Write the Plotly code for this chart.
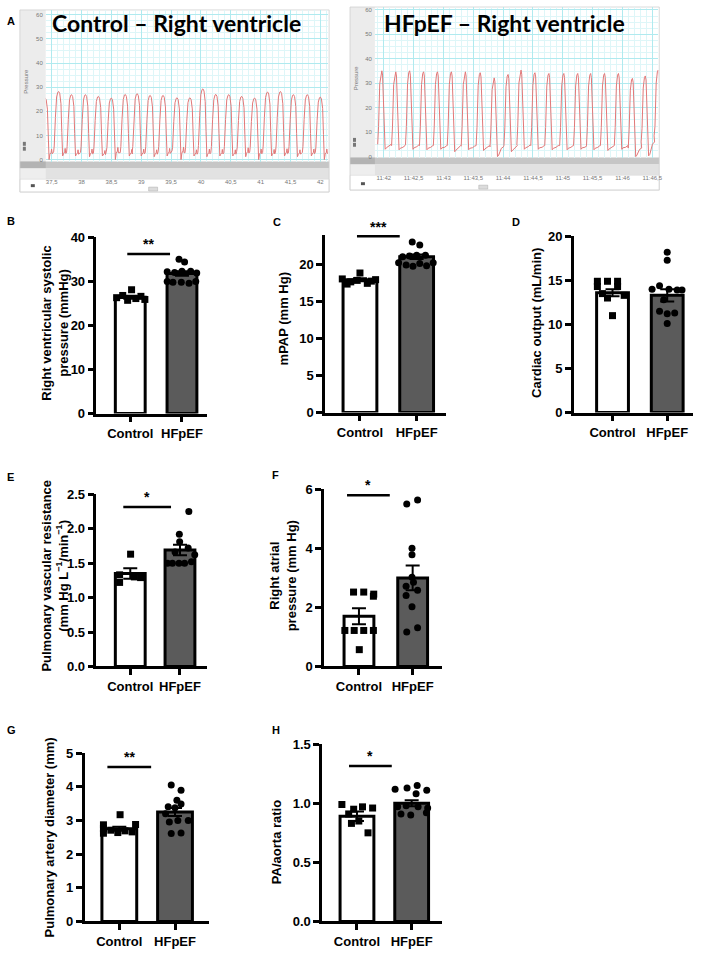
import plotly.graph_objects as go

W, H = 709, 956
FONT = "Liberation Sans"

# ---------------- Panel A data ----------------
ctrl_peak_t = [37.39, 37.617, 37.833, 38.067, 38.283, 38.5, 38.733, 38.933, 39.15, 39.367, 39.6,
               39.817, 40.033, 40.25, 40.467, 40.683, 40.9, 41.117, 41.333, 41.55, 41.783, 42.0]
ctrl_peak_p = [25.5, 28.2, 26.9, 26.9, 26.2, 25.5, 27.0, 27.3, 26.6, 26.6, 25.6,
               25.6, 29.3, 27.0, 26.9, 26.2, 25.5, 28.0, 28.2, 26.9, 26.9, 25.9]
ctrl_min_p = [0.0, 1.5, 1.5, 1.2, 1.5, 0.0, 1.5, 1.5, 1.2, 1.5, 0.0,
              1.5, 1.2, 1.5, 1.5, 1.2, 0.0, 1.5, 1.5, 1.2, 1.5, 0.0]
ctrl_edp = [3.0, 3.2, 2.8, 3.0, 2.6, 3.5, 2.9, 3.0, 2.8, 3.2, 3.6,
            2.8, 3.0, 2.9, 2.8, 3.4, 3.0, 2.9, 3.1, 2.8, 3.0, 3.0]
ctrl_tick_vals = [37.5, 38, 38.5, 39, 39.5, 40, 40.5, 41, 41.5, 42]
ctrl_tick_text = ["37,5", "38", "38,5", "39", "39,5", "40", "40,5", "41", "41,5", "42"]

hf_peak_t = [41.967, 42.2, 42.433, 42.667, 42.9, 43.133, 43.367, 43.617, 43.85, 44.083, 44.3,
             44.533, 44.767, 45.017, 45.25, 45.467, 45.7, 45.933, 46.167, 46.383, 46.6]
hf_peak_p = [35.1, 34.7, 35.1, 34.7, 34.7, 34.7, 34.7, 34.3, 32.2, 33.6, 35.4,
             34.3, 34.0, 34.0, 34.0, 34.0, 34.0, 34.0, 32.0, 33.0, 35.4]
hf_min_p = [3.0, 2.8, 3.0, 2.8, 3.0, 2.0, 2.8, 2.5, 0.0, 2.0, 3.0,
            3.0, 2.8, 2.8, 3.0, 2.8, 2.5, 3.0, 0.0, 0.3, 3.0]
hf_edp = [5.0, 4.5, 4.8, 4.5, 4.5, 4.5, 4.3, 4.5, 4.0, 4.5, 4.8,
          4.5, 4.5, 4.5, 4.5, 4.5, 4.5, 4.5, 3.5, 6.0, 8.5]
hf_tick_vals = [42, 42.5, 43, 43.5, 44, 44.5, 45, 45.5, 46, 46.5]
hf_tick_text = ["11:42", "11:42,5", "11:43", "11:43,5", "11:44", "11:44,5",
                "11:45", "11:45,5", "11:46", "11:46,5"]

# ---------------- Panels B-H data ----------------
groups = ["Control", "HFpEF"]

rvsp_ctrl = [28.1, 26.8, 26.6, 26.3, 26.1, 25.9, 25.7]
rvsp_ctrl_j = [0.08, -0.46, 0.65, -0.83, 0.34, 0.89, -0.16]
rvsp_hf = [35.0, 34.4, 32.2, 32.0, 32.3, 32.3, 31.9, 30.0, 29.8, 29.8, 29.6, 30.0]
rvsp_hf_j = [-0.18, 0.16, -0.9, -0.45, 0.0, 0.53, 0.9, -0.9, -0.55, -0.04, 0.43, 0.84]
rvsp_mean = [26.4, 31.8]
rvsp_sem = [0.35, 0.5]

mpap_ctrl = [18.9, 18.1, 17.7, 17.5, 18.0, 17.4, 17.9, 17.8]
mpap_ctrl_j = [0.0, -0.96, -0.5, 0.4, 0.85, -0.7, -0.15, 0.62]
mpap_hf = [23.1, 22.7, 21.1, 21.2, 21.3, 21.3, 20.3, 20.3, 20.0, 19.8, 20.2, 19.9]
mpap_hf_j = [-0.24, 0.17, -0.76, -0.39, 0.0, 0.48, -0.98, 0.9, -0.57, -0.2, 0.17, 0.54]
mpap_mean = [18.0, 21.1]
mpap_sem = [0.2, 0.3]

co_ctrl = [14.9, 14.9, 14.9, 14.3, 14.3, 13.5, 13.3, 13.0, 11.0]
co_ctrl_j = [-0.87, -0.29, 0.29, -0.87, 0.29, -0.58, 0.67, -0.29, 0.0]
co_hf = [18.2, 17.3, 14.4, 14.0, 14.0, 13.9, 13.9, 12.8, 11.5, 11.2, 11.3, 10.1]
co_hf_j = [0.0, 0.0, -0.44, -0.87, 0.1, 0.57, 0.85, -0.2, -0.44, 0.0, 0.43, 0.0]
co_mean = [13.6, 13.3]
co_sem = [0.4, 0.7]

pvr_ctrl = [1.63, 1.33, 1.30, 1.22, 1.29]
pvr_ctrl_j = [0.02, -0.65, 0.25, -0.65, 0.63]
pvr_hf = [2.25, 1.92, 1.81, 1.72, 1.66, 1.50, 1.50, 1.50, 1.50, 1.52, 1.62]
pvr_hf_j = [0.54, -0.04, -0.02, 0.5, -0.3, -0.76, -0.46, -0.06, 0.28, 0.7, 0.9]
pvr_mean = [1.35, 1.69]
pvr_sem = [0.075, 0.075]

rap_ctrl = [2.52, 2.52, 2.45, 2.38, 1.22, 1.22, 1.22, 1.22, 0.57]
rap_ctrl_j = [-0.33, 0.29, 0.9, 0.88, -0.86, -0.29, 0.29, 0.88, 0.02]
rap_hf = [5.50, 5.64, 4.00, 3.78, 3.02, 2.85, 2.72, 2.58, 2.02, 1.17, 1.31, 2.40]
rap_hf_j = [-0.36, 0.3, -0.04, -0.04, -0.04, 0.05, -0.4, 0.3, -0.04, -0.36, 0.3, -0.4]
rap_mean = [1.70, 3.00]
rap_sem = [0.27, 0.42]

pad_ctrl = [3.17, 2.87, 2.88, 2.76, 2.71, 2.69, 2.66, 2.64, 2.62]
pad_ctrl_j = [0.04, -0.84, 0.86, -0.84, -0.45, 0.3, 0.68, -0.08, -0.84]
pad_hf = [4.05, 3.90, 3.60, 3.41, 3.38, 3.49, 3.20, 3.00, 3.00, 2.95, 2.61, 2.63]
pad_hf_j = [-0.2, 0.32, 0.1, -0.36, 0.0, 0.32, -0.5, 0.15, 0.7, -0.3, -0.2, 0.32]
pad_mean = [2.75, 3.25]
pad_sem = [0.06, 0.12]

paao_ctrl = [0.99, 0.95, 0.97, 0.96, 0.91, 0.85, 0.83, 0.75]
paao_ctrl_j = [-0.82, -0.18, 0.3, 0.85, -0.45, 0.1, -0.3, 0.6]
paao_hf = [1.12, 1.13, 1.15, 1.11, 1.08, 0.98, 0.97, 0.97, 0.96, 0.91, 0.90, 0.92]
paao_hf_j = [-0.9, -0.25, 0.3, 0.82, 0.24, -0.3, -0.76, 0.35, 0.87, -0.58, -0.05, 0.8]
paao_mean = [0.89, 1.00]
paao_sem = [0.04, 0.025]


def px(x):
    return x / W


def py(y):
    return 1 - y / H


fig = go.Figure()
layout = dict(width=W, height=H, margin=dict(l=0, r=0, t=0, b=0, pad=0),
              paper_bgcolor="white", plot_bgcolor="white", showlegend=False,
              font=dict(family=FONT, size=13, color="black", weight="bold"))
annotations = []
shapes = []


def note(text, x, y, size, angle=0, family=FONT, color="black", weight="bold", xanchor="center"):
    annotations.append(dict(text=text, x=px(x), y=py(y), xref="paper", yref="paper",
                            xanchor=xanchor, yanchor="middle", textangle=angle, showarrow=False,
                            font=dict(family=family, size=size, color=color, weight=weight)))


# ---------------- Panel A: pressure traces ----------------
def ctrl_beat(t, p, m, d):
    ts = [t - 0.085, t - 0.075, t - 0.055, t - 0.035, t - 0.015, t, t + 0.018, t + 0.038,
          t + 0.052, t + 0.066, t + 0.08, t + 0.1, t + 0.108, t + 0.118]
    ps = [d, 0.2 * p, 0.62 * p, 0.92 * p, 0.99 * p, p, 0.97 * p, 0.82 * p,
          0.4 * p, m, d * 0.75, d * 1.0, d * 1.45, d * 0.8]
    return ts, ps


def hf_beat(t, p, m, d):
    ts = [t - 0.07, t - 0.055, t - 0.035, t - 0.015, t, t + 0.012, t + 0.025, t + 0.04,
          t + 0.055, t + 0.075, t + 0.12, t + 0.155]
    ps = [d, 0.35 * p, 0.85 * p, 0.98 * p, p, 0.95 * p, 0.7 * p, 0.25 * p,
          m, m + 0.6, d * 0.85, d]
    return ts, ps


def build(beat, tl, pl, ml, dl):
    xs, ys = [], []
    for t, p, m, d in zip(tl, pl, ml, dl):
        a, b = beat(t, p, m, d)
        xs += a
        ys += b
    return xs, ys


cx, cy = build(ctrl_beat, ctrl_peak_t, ctrl_peak_p, ctrl_min_p, ctrl_edp)
hx, hy = build(hf_beat, hf_peak_t, hf_peak_p, hf_min_p, hf_edp)
TRACE = "#e27878"
fig.add_trace(go.Scatter(x=cx, y=cy, mode="lines", line=dict(color=TRACE, width=1),
                         xaxis="x8", yaxis="y8"))
fig.add_trace(go.Scatter(x=hx, y=hy, mode="lines", line=dict(color=TRACE, width=1),
                         xaxis="x9", yaxis="y9"))

GRID_MAJ = "#b0eaef"
GRID_MIN = "#def6f8"
small = dict(family="Liberation Sans", size=6, color="#777", weight="normal")
for k, (xd, yd, xr, yr, tv, tt) in {
        8: ((46, 330), (157, 3), [37.4, 42.13], [-0.8, 62.0], ctrl_tick_vals, ctrl_tick_text),
        9: ((377, 662), (153, 0), [41.85, 46.6], [-0.4, 61.2], hf_tick_vals, hf_tick_text)}.items():
    layout[f"xaxis{k}"] = dict(domain=[px(xd[0]), px(xd[1])], range=xr, anchor=f"y{k}",
                               tickmode="array", tickvals=tv, ticktext=tt, tickfont=small,
                               ticks="", showgrid=True, gridcolor=GRID_MAJ, gridwidth=1,
                               minor=dict(tickmode="linear", tick0=0, dtick=0.1, showgrid=True,
                                          gridcolor=GRID_MIN, gridwidth=1),
                               zeroline=False, showline=False, ticklabelstandoff=15)
    layout[f"yaxis{k}"] = dict(domain=[py(yd[0]), py(yd[1])], range=yr, anchor=f"x{k}",
                               tickmode="linear", tick0=0, dtick=10, tickfont=small, ticks="",
                               showgrid=True, gridcolor=GRID_MAJ, gridwidth=1,
                               minor=dict(tickmode="linear", tick0=0, dtick=2.5, showgrid=True,
                                          gridcolor=GRID_MIN, gridwidth=1),
                               zeroline=False, showline=False, ticklabelstandoff=2)


def rect(x0, y0, x1, y1, fill, line=None, lw=0):
    shapes.append(dict(type="rect", xref="paper", yref="paper", layer="below",
                       x0=px(x0), x1=px(x1), y0=py(y1), y1=py(y0), fillcolor=fill,
                       line=dict(color=line or fill, width=lw)))


# frames of the two recordings
for (fx0, fx1, strip, ptop, pbot, bot) in [(20, 331, 46, 3, 157, 188), (352, 663, 377, 0, 153, 186)]:
    rect(fx0, ptop, strip, pbot, "#ececec")
    rect(fx0, pbot, fx1, pbot + 7, "#c6c6c6")
    rect(fx0, pbot, strip, pbot + 7, "#b3b3b3")
    rect(fx0, pbot + 7, fx1, pbot + 18, "#e2e2e2")
    rect(fx0, pbot + 7, strip, pbot + 18, "#eeeeee")
    rect(fx0, pbot + 18, fx1, bot, "white", "#d8d8d8", 0.6)
    rect(fx0 + 3, pbot - 20, fx0 + 6, pbot - 16, "#777")
    rect(fx0 + 3, pbot - 15, fx0 + 6, pbot - 11, "#777")
    rect(fx0 + 11, bot - 8, fx0 + 15, bot - 5, "#555")
    rect((fx0 + fx1) / 2 - 26, bot - 5, (fx0 + fx1) / 2 - 17, bot - 1, "#dcdcdc", "#aaa", 0.5)
    shapes.append(dict(type="rect", xref="paper", yref="paper", layer="below",
                       x0=px(fx0), x1=px(fx1), y0=py(bot), y1=py(ptop),
                       line=dict(color="#d0d0d0", width=0.8), fillcolor="rgba(0,0,0,0)"))
    note("Pressure", fx0 + 6, (ptop + pbot) / 2 - 5, 6, angle=-90, color="#777", weight="normal")

note("Control – Right ventricle", 178, 16, 23, family="Lato")
note("HFpEF – Right ventricle", 507, 16, 23, family="Lato")
note("A", 5, 14, 11, xanchor="left")

# ---------------- Panels B-H: bar charts ----------------
panels = [
    dict(ctrl=rvsp_ctrl, cj=rvsp_ctrl_j, hf=rvsp_hf, hj=rvsp_hf_j, mean=rvsp_mean, sem=rvsp_sem,
         x0=97, x1=208, yb=413, yt=234, yr=[0, 40], tv=[0, 10, 20, 30, 40], fmt="d",
         c=(131, 183), bw=33, letter="B", lpos=(5, 217),
         title="Right ventricular systolic<br>pressure (mmHg)", tpos=(55, 321),
         sig=(128, 171, 251), stars="**"),
    dict(ctrl=mpap_ctrl, cj=mpap_ctrl_j, hf=mpap_hf, hj=mpap_hf_j, mean=mpap_mean, sem=mpap_sem,
         x0=327, x1=449, yb=412, yt=232, yr=[0, 24], tv=[0, 5, 10, 15, 20], fmt="d",
         c=(362, 419), bw=37, letter="C", lpos=(273, 218),
         title="mPAP (mm Hg)", tpos=(285, 317),
         sig=(359, 402, 233), stars="***"),
    dict(ctrl=co_ctrl, cj=co_ctrl_j, hf=co_hf, hj=co_hf_j, mean=co_mean, sem=co_sem,
         x0=577, x1=697, yb=412, yt=233, yr=[0, 20], tv=[0, 5, 10, 15, 20], fmt="d",
         c=(616, 671), bw=35, letter="D", lpos=(513, 218),
         title="Cardiac output (mL/min)", tpos=(540, 321), sig=None, stars=None),
    dict(ctrl=pvr_ctrl, cj=pvr_ctrl_j, hf=pvr_hf, hj=pvr_hf_j, mean=pvr_mean, sem=pvr_sem,
         x0=97, x1=208, yb=670, yt=495, yr=[0, 2.5], tv=[0, 0.5, 1.0, 1.5, 2.0, 2.5], fmt=".1f",
         c=(131, 181), bw=33, letter="E", lpos=(5, 477),
         title="Pulmonary vascular resistance<br>(mm Hg L<sup>−1</sup>/min<sup>−1</sup>)",
         tpos=(55, 578), sig=(124, 172, 508), stars="*"),
    dict(ctrl=rap_ctrl, cj=rap_ctrl_j, hf=rap_hf, hj=rap_hf_j, mean=rap_mean, sem=rap_sem,
         x0=326, x1=445, yb=670, yt=490, yr=[0, 6], tv=[0, 2, 4, 6], fmt="d",
         c=(361, 415), bw=33, letter="F", lpos=(272, 475),
         title="Right atrial<br>pressure (mm Hg)", tpos=(285, 578),
         sig=(349, 392, 496), stars="*"),
    dict(ctrl=pad_ctrl, cj=pad_ctrl_j, hf=pad_hf, hj=pad_hf_j, mean=pad_mean, sem=pad_sem,
         x0=85, x1=210, yb=929, yt=758, yr=[0, 5], tv=[0, 1, 2, 3, 4, 5], fmt="d",
         c=(120, 176), bw=38, letter="G", lpos=(5, 735),
         title="Pulmonary artery diameter (mm)", tpos=(50, 844),
         sig=(108, 152, 772), stars="**"),
    dict(ctrl=paao_ctrl, cj=paao_ctrl_j, hf=paao_hf, hj=paao_hf_j, mean=paao_mean, sem=paao_sem,
         x0=324, x1=445, yb=929, yt=749, yr=[0, 1.5], tv=[0, 0.5, 1.0, 1.5], fmt=".1f",
         c=(359, 414), bw=37, letter="H", lpos=(272, 735),
         title="PA/aorta ratio", tpos=(278, 848),
         sig=(351, 394, 771), stars="*"),
]

axfont = dict(family=FONT, size=13, color="black", weight="bold")
for i, P in enumerate(panels, start=1):
    xa, ya = f"x{i}", f"y{i}"
    unit = P["c"][1] - P["c"][0]
    bw = (P["bw"] - 3) / unit
    half = P["bw"] / 2 / unit
    fig.add_trace(go.Bar(x=[0, 1], y=P["mean"], width=bw, xaxis=xa, yaxis=ya,
                         marker=dict(color=["white", "#5b5b5b"], line=dict(color="black", width=3))))
    fig.add_trace(go.Scatter(x=[0 + j * half for j in P["cj"]], y=P["ctrl"], mode="markers",
                             xaxis=xa, yaxis=ya, cliponaxis=False,
                             marker=dict(symbol="square", size=7, color="black")))
    fig.add_trace(go.Scatter(x=[1 + j * half for j in P["hj"]], y=P["hf"], mode="markers",
                             xaxis=xa, yaxis=ya, cliponaxis=False,
                             marker=dict(symbol="circle", size=7, color="black")))
    fig.add_trace(go.Scatter(x=[0, 1], y=P["mean"], mode="markers", xaxis=xa, yaxis=ya,
                             cliponaxis=False, marker=dict(size=1, color="rgba(0,0,0,0)"),
                             error_y=dict(type="data", array=P["sem"], color="black",
                                          thickness=2, width=7)))
    xr = [(P["x0"] - P["c"][0]) / unit, (P["x1"] - P["c"][0]) / unit]
    layout[f"xaxis{i}"] = dict(domain=[px(P["x0"]), px(P["x1"])], range=xr, anchor=ya,
                               tickmode="array", tickvals=[0, 1], ticktext=groups,
                               ticks="outside", ticklen=6, tickwidth=2.5, tickcolor="black",
                               showline=True, linewidth=2.5, linecolor="black",
                               showgrid=False, zeroline=False, tickfont=axfont)
    layout[f"yaxis{i}"] = dict(domain=[py(P["yb"]), py(P["yt"])], range=P["yr"], anchor=xa,
                               tickmode="array", tickvals=P["tv"], tickformat=P["fmt"],
                               ticks="outside", ticklen=6, tickwidth=2.5, tickcolor="black",
                               showline=True, linewidth=2.5, linecolor="black",
                               showgrid=False, zeroline=False, tickfont=axfont)
    note(P["letter"], P["lpos"][0], P["lpos"][1], 11, xanchor="left")
    note(P["title"], P["tpos"][0], P["tpos"][1], 13, angle=-90)
    if P["sig"]:
        sx0, sx1, sy = P["sig"]
        shapes.append(dict(type="line", xref="paper", yref="paper", x0=px(sx0), x1=px(sx1),
                           y0=py(sy), y1=py(sy), line=dict(color="black", width=2.5)))
        note(P["stars"], (sx0 + sx1) / 2, sy - 10, 14)

layout["annotations"] = annotations
layout["shapes"] = shapes
fig.update_layout(**layout)
fig.write_html("out.html", config={"displayModeBar": False},
               post_script="document.body.style.margin='0';")
